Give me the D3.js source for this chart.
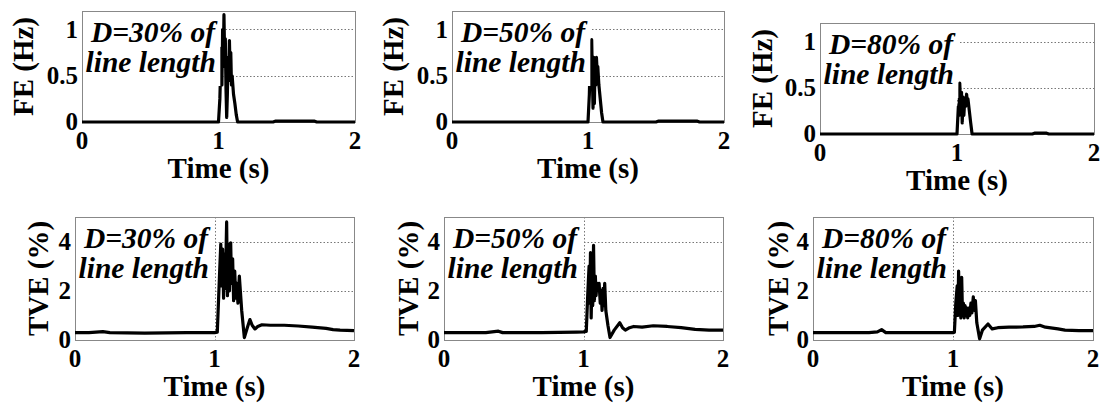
<!DOCTYPE html>
<html>
<head>
<meta charset="utf-8">
<script src="https://cdn.jsdelivr.net/npm/d3@7"></script>
<style>
  body { margin: 0; background: #fff; }
  svg text { font-family: "Liberation Serif", "Times New Roman", serif; font-weight: bold; fill: #000; }
</style>
</head>
<body>
<svg id="chart" width="1105" height="405"></svg>
<script>
// axis ticks and labels
const timeTicks = [0, 1, 2];
const feTicks = [0, 0.5, 1];
const tveTicks = [0, 2, 4];
const feGrid = [0.5, 1];
const tveGrid = [2, 4];
const annotations = ['D=30% of', 'D=50% of', 'D=80% of'];

// frequency error (Hz) vs time (s)
const fe30 = [[0,0],[0.99,0],[1.0,0],[1.01,0.25],[1.02,0.8],[1.025,0.4],[1.03,1.0],[1.035,0.6],[1.04,1.16],
  [1.045,0.7],[1.05,0.9],[1.055,0.35],[1.06,0.05],[1.065,0.3],[1.07,0.7],[1.075,0.45],[1.08,0.88],
  [1.085,0.55],[1.09,0.75],[1.095,0.4],[1.1,0.5],[1.11,0.3],[1.12,0.2],[1.13,0.08],[1.14,0],
  [1.4,0],[1.42,0.01],[1.7,0.01],[1.72,0],[2,0]];
const fe50 = [[0,0],[1.0,0],[1.01,0.3],[1.015,0.6],[1.02,0.35],[1.027,0.89],[1.032,0.5],[1.037,0.15],
  [1.042,0.7],[1.047,0.2],[1.052,0.65],[1.057,0.4],[1.062,0.7],[1.067,0.55],[1.072,0.6],[1.08,0.4],
  [1.09,0.25],[1.1,0.1],[1.11,0],[1.5,0],[1.52,0.01],[1.8,0.01],[1.82,0],[2,0]];
const fe80 = [[0,0],[1.0,0],[1.01,0.3],[1.015,0.2],[1.02,0.55],[1.027,0.3],[1.033,0.45],[1.038,0.12],
  [1.045,0.4],[1.05,0.2],[1.057,0.38],[1.063,0.3],[1.07,0.43],[1.075,0.35],[1.08,0.38],[1.09,0.25],
  [1.1,0.12],[1.11,0],[1.55,0],[1.57,0.01],[1.65,0.01],[1.67,0],[2,0]];

// total vector error (%) vs time (s)
const tve30 = [[0,0.3],[0.1,0.3],[0.2,0.34],[0.25,0.3],[0.5,0.28],[0.8,0.3],[1.0,0.3],[1.02,0.32],
  [1.035,2.5],[1.045,3.9],[1.05,2.2],[1.058,3.7],[1.065,1.7],[1.072,3.5],[1.078,2.1],[1.087,4.8],
  [1.093,1.8],[1.1,3.9],[1.107,2.0],[1.116,3.95],[1.122,2.3],[1.13,3.3],[1.137,1.6],[1.145,2.8],
  [1.152,1.7],[1.16,2.3],[1.168,1.5],[1.178,2.6],[1.195,1.2],[1.214,0.1],[1.235,0.5],[1.254,0.83],
  [1.27,0.6],[1.29,0.45],[1.31,0.55],[1.34,0.62],[1.4,0.6],[1.5,0.6],[1.6,0.57],[1.7,0.52],
  [1.8,0.47],[1.85,0.42],[1.9,0.4],[2,0.38]];
const tve50 = [[0,0.3],[0.3,0.3],[0.39,0.36],[0.42,0.3],[0.7,0.3],[0.95,0.32],[1.0,0.33],[1.02,0.35],
  [1.03,1.8],[1.04,3.0],[1.045,1.5],[1.05,3.55],[1.055,0.9],[1.062,2.8],[1.066,1.4],[1.072,3.85],
  [1.078,1.6],[1.085,2.6],[1.09,1.8],[1.097,2.3],[1.105,2.1],[1.112,2.3],[1.12,1.5],[1.127,2.0],
  [1.133,1.2],[1.14,2.1],[1.145,1.4],[1.152,2.3],[1.16,1.2],[1.175,0.6],[1.19,0.1],[1.22,0.4],
  [1.26,0.7],[1.28,0.5],[1.3,0.4],[1.33,0.5],[1.36,0.55],[1.42,0.52],[1.5,0.58],[1.6,0.55],
  [1.7,0.5],[1.8,0.43],[1.9,0.4],[2,0.4]];
const tve80 = [[0,0.3],[0.4,0.3],[0.46,0.33],[0.49,0.42],[0.52,0.3],[0.8,0.3],[1.0,0.3],[1.01,0.32],
  [1.02,1.5],[1.03,2.2],[1.035,1.0],[1.04,2.8],[1.046,1.2],[1.052,2.3],[1.056,0.9],[1.062,2.55],
  [1.068,1.0],[1.074,1.5],[1.08,0.9],[1.086,1.4],[1.092,1.0],[1.1,1.3],[1.105,0.9],[1.112,1.3],
  [1.12,1.0],[1.128,1.5],[1.135,1.1],[1.145,1.75],[1.152,1.2],[1.16,1.6],[1.17,0.7],[1.19,0.05],
  [1.21,0.4],[1.25,0.65],[1.28,0.45],[1.32,0.5],[1.4,0.52],[1.5,0.53],[1.58,0.55],[1.62,0.6],
  [1.66,0.52],[1.75,0.45],[1.8,0.4],[1.9,0.38],[2,0.38]];

// panel layout: box = [left, top, width, height]
const panels = [
  { box: [82, 11, 273, 111],  yMax: 1.2, ticks: feTicks,  grid: feGrid,  data: fe30,  note: annotations[0], ylabel: 'FE (Hz)', labOff: 49 },
  { box: [452, 11, 272, 111], yMax: 1.2, ticks: feTicks,  grid: feGrid,  data: fe50,  note: annotations[1], ylabel: 'FE (Hz)', labOff: 49 },
  { box: [820, 23, 274, 111], yMax: 1.2, ticks: feTicks,  grid: feGrid,  data: fe80,  note: annotations[2], ylabel: 'FE (Hz)', labOff: 48 },
  { box: [75, 217, 279, 123], yMax: 5,   ticks: tveTicks, grid: tveGrid, data: tve30, note: annotations[0], ylabel: 'TVE (%)', labOff: 27 },
  { box: [444, 217, 279, 123], yMax: 5,  ticks: tveTicks, grid: tveGrid, data: tve50, note: annotations[1], ylabel: 'TVE (%)', labOff: 26 },
  { box: [813, 217, 280, 123], yMax: 5,  ticks: tveTicks, grid: tveGrid, data: tve80, note: annotations[2], ylabel: 'TVE (%)', labOff: 25 }
];

const svg = d3.select('#chart');

panels.forEach(p => {
  const [left, top, w, h] = p.box;
  const x = d3.scaleLinear().domain([0, 2]).range([left, left + w]);
  const y = d3.scaleLinear().domain([0, p.yMax]).range([top + h, top]);
  const g = svg.append('g');

  // dotted grid
  g.append('line')
    .attr('x1', Math.round(x(1)) + 0.5).attr('x2', Math.round(x(1)) + 0.5)
    .attr('y1', top).attr('y2', top + h)
    .attr('stroke', '#777').attr('stroke-dasharray', '1.5,2');
  g.selectAll('.hgrid').data(p.grid).enter().append('line')
    .attr('x1', left).attr('x2', left + w)
    .attr('y1', d => Math.round(y(d)) + 0.5).attr('y2', d => Math.round(y(d)) + 0.5)
    .attr('stroke', '#777').attr('stroke-dasharray', '1.5,2');

  // annotation with white background
  const noteG = g.append('g');
  const note = noteG.append('text')
    .style('font-style', 'italic').style('font-size', '29.5px');
  note.append('tspan').attr('x', left + 9).attr('y', top + 31).text(p.note);
  note.append('tspan').attr('x', left + 3.5).attr('y', top + 61).text('line length');
  const bb = note.node().getBBox();
  noteG.insert('rect', 'text')
    .attr('x', left + 1).attr('y', top + 1)
    .attr('width', bb.x + bb.width + 2 - left - 1)
    .attr('height', 61 + 14 - 1)
    .attr('fill', '#fff');

  // frame
  g.append('rect')
    .attr('x', left + 0.5).attr('y', top + 0.5).attr('width', w).attr('height', h)
    .attr('fill', 'none').attr('stroke', '#888').attr('stroke-width', 1);

  // trace
  const line = d3.line().x(d => x(d[0])).y(d => y(d[1]));
  g.append('path').datum(p.data)
    .attr('d', line)
    .attr('fill', 'none').attr('stroke', '#000').attr('stroke-width', 3.2)
    .attr('stroke-linejoin', 'round');

  // bring the note text on top
  noteG.raise();

  // tick labels
  g.selectAll('.xt').data(timeTicks).enter().append('text')
    .attr('x', d => x(d)).attr('y', top + h + 27)
    .attr('text-anchor', 'middle').style('font-size', '25px')
    .text(d => d);
  g.selectAll('.yt').data(p.ticks).enter().append('text')
    .attr('x', left - 4).attr('y', d => y(d)).attr('dy', '0.33em')
    .attr('text-anchor', 'end').style('font-size', '25px')
    .text(d => d);

  // axis labels
  g.append('text')
    .attr('x', left + w / 2).attr('y', top + h + 56)
    .attr('text-anchor', 'middle').style('font-size', '29px')
    .text('Time (s)');
  g.append('text')
    .attr('transform', `translate(${left - p.labOff},${top + h / 2}) rotate(-90)`)
    .attr('text-anchor', 'middle').style('font-size', '29px')
    .text(p.ylabel);
});
</script>
</body>
</html>
